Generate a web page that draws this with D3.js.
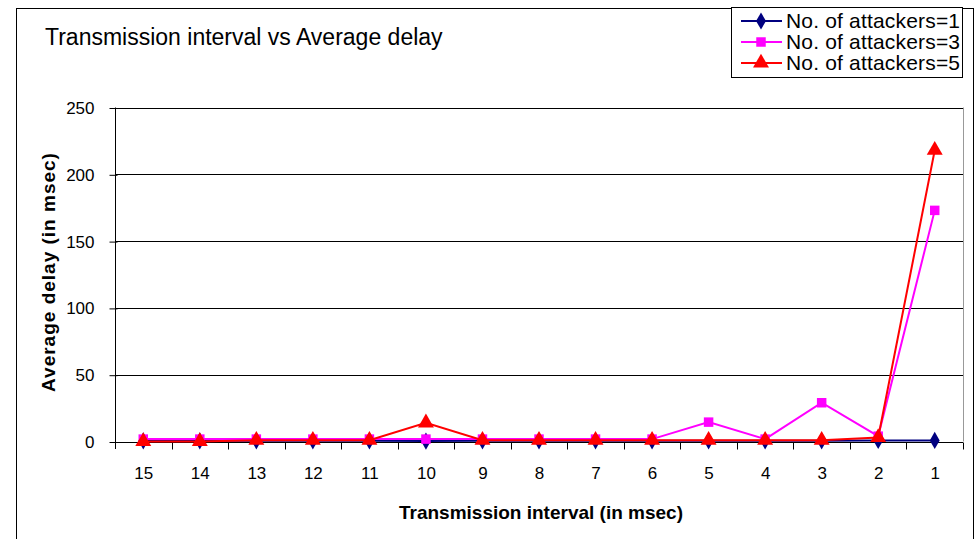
<!DOCTYPE html>
<html lang="en">
	<head>
		<meta charset="utf-8">
		<title>Transmission interval vs Average delay</title>
		<script type="text/javascript" src="https://cdn.jsdelivr.net/npm/d3@7"></script>
		<style type="text/css">
			body { margin: 0px; background: white; }
			text { font-family: "Liberation Sans", Arial, sans-serif; }
		</style>
	</head>
	<body>
		<div id="chart"></div>
		<script type="text/javascript">
			//Data
			var intervals = ["15","14","13","12","11","10","9","8","7","6","5","4","3","2","1"];
			var att1 = [0.5,0.5,0.5,0.5,0.5,0.3,0.5,0.5,0.5,0.5,0.5,0.5,0.5,0.8,0.8];
			var att3 = [1.8,1.8,1.8,1.8,1.8,1.8,1.8,1.8,1.8,1.8,14.5,1.8,29,4,173];
			var att5 = [0,0,1,1,1,14,1,1,1,1,1,1,1,3,218];
			var yTicks = [0,50,100,150,200,250];
			var seriesNames = ["No. of attackers=1","No. of attackers=3","No. of attackers=5"];
			var colors = ["#000080","#FF00FF","#FF0000"];
			var shapes = [d3.symbolDiamond, d3.symbolSquare, d3.symbolTriangle];
			var symSizes = [85, 90, 110];

			var w = 976, h = 539;
			var pLeft = 115, pRight = 963, pTop = 107.5, pBottom = 441.5;

			var svg = d3.select("#chart").append("svg")
				.attr("width", w)
				.attr("height", h);

			//outer border
			svg.append("rect")
				.attr("x", 16.5).attr("y", 8.5)
				.attr("width", 957).attr("height", 560)
				.attr("fill", "none").attr("stroke", "black");

			var x = d3.scalePoint().domain(intervals).range([pLeft, pRight]).padding(0.5);
			var xb = d3.scaleBand().domain(intervals).range([pLeft, pRight]);
			var y = d3.scaleLinear().domain([0, 250]).range([pBottom, pTop]);

			//gridlines
			svg.append("g").selectAll("line")
				.data(yTicks.slice(1))
				.enter().append("line")
				.attr("x1", pLeft).attr("x2", pRight)
				.attr("y1", d => Math.round(y(d)) + 0.5).attr("y2", d => Math.round(y(d)) + 0.5)
				.attr("stroke", "black");

			//plot area right edge
			svg.append("line")
				.attr("x1", pRight + 0.5).attr("x2", pRight + 0.5)
				.attr("y1", pTop).attr("y2", pBottom)
				.attr("stroke", "#999");

			//y axis
			var yAxis = d3.axisLeft(y).tickValues(yTicks).tickSize(6).tickPadding(15);
			var yg = svg.append("g")
				.attr("transform", "translate(" + (pLeft + 0.5) + ",0.5)")
				.call(yAxis);
			yg.select(".domain").attr("d", "M0," + (pTop - 0.5) + "V" + (pBottom + 7));
			yg.selectAll(".tick line").attr("x2", -6).attr("x1", 2);
			yg.selectAll("text").attr("font-size", 17).attr("fill", "black")
				.attr("font-family", "Liberation Sans, Arial, sans-serif");

			//x axis
			var xAxis = d3.axisBottom(x).tickSize(0).tickPadding(24);
			var xg = svg.append("g")
				.attr("transform", "translate(0," + (Math.round(pBottom) + 0.5) + ")")
				.call(xAxis);
			xg.select(".domain").attr("d", "M" + pLeft + ",0H" + pRight);
			xg.selectAll("text").attr("font-size", 17).attr("fill", "black")
				.attr("font-family", "Liberation Sans, Arial, sans-serif");
			xg.selectAll(".sep")
				.data(intervals)
				.enter().append("line")
				.attr("x1", d => Math.round(xb(d) + xb.bandwidth()) + 0.5)
				.attr("x2", d => Math.round(xb(d) + xb.bandwidth()) + 0.5)
				.attr("y1", 0).attr("y2", 7)
				.attr("stroke", "black");

			//series
			var series = [att1, att3, att5];
			var line = d3.line().x((d, i) => x(intervals[i])).y(d => y(d));
			series.forEach(function(vals, s) {
				svg.append("path")
					.datum(vals)
					.attr("d", line)
					.attr("fill", "none")
					.attr("stroke", colors[s])
					.attr("stroke-width", 2);
				svg.append("g").selectAll("path")
					.data(vals)
					.enter().append("path")
					.attr("transform", (d, i) => "translate(" + x(intervals[i]) + "," + y(d) + ")")
					.attr("d", d3.symbol().type(shapes[s]).size(symSizes[s]))
					.attr("fill", colors[s]);
			});

			//title
			svg.append("text")
				.attr("x", 45).attr("y", 45)
				.attr("font-size", 23)
				.text("Transmission interval vs Average delay");

			//axis titles
			svg.append("text")
				.attr("x", 541).attr("y", 519)
				.attr("text-anchor", "middle")
				.attr("font-size", 19).attr("font-weight", "bold")
				.text("Transmission interval (in msec)");
			svg.append("text")
				.attr("transform", "translate(55,272) rotate(-90)")
				.attr("text-anchor", "middle")
				.attr("font-size", 19).attr("font-weight", "bold")
				.attr("letter-spacing", 1)
				.text("Average delay (in msec)");

			//legend
			var lg = svg.append("g");
			lg.append("rect")
				.attr("x", 731.5).attr("y", 7.5)
				.attr("width", 231).attr("height", 70)
				.attr("fill", "white").attr("stroke", "black");
			seriesNames.forEach(function(name, s) {
				var ly = 21 + s * 21;
				lg.append("line")
					.attr("x1", 741).attr("x2", 782)
					.attr("y1", ly).attr("y2", ly)
					.attr("stroke", colors[s]).attr("stroke-width", 2);
				lg.append("path")
					.attr("transform", "translate(761," + ly + ")")
					.attr("d", d3.symbol().type(shapes[s]).size(symSizes[s]))
					.attr("fill", colors[s]);
				lg.append("text")
					.attr("x", 786).attr("y", ly + 7)
					.attr("font-size", 21)
					.attr("textLength", 174)
					.text(name);
			});
		</script>
	</body>
</html>
